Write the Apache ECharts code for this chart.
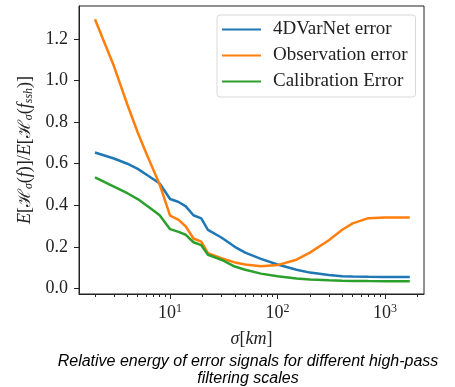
<!DOCTYPE html>
<html>
<head>
    <meta charset="utf-8">
    <title>Relative energy of error signals</title>
    <script src="https://cdn.jsdelivr.net/npm/echarts@6.0.0/dist/echarts.min.js"></script>
    <style>
        html, body { margin: 0; padding: 0; background: #fff; }
        #chart { width: 455px; height: 387px; }
    </style>
</head>
<body>
    <div id="chart"></div>
    <script>
        // filtering scale sigma in km
        const sigma = [2, 3, 4, 5, 6, 7, 8, 10, 12, 14, 16.5, 19.5, 22.5, 30, 40, 50, 70, 100, 150, 200, 300, 400, 500, 700, 1000, 1700];
        const varnetErr = [0.654, 0.625, 0.600, 0.575, 0.548, 0.525, 0.505, 0.430, 0.416, 0.395, 0.352, 0.337, 0.282, 0.245, 0.200, 0.172, 0.142, 0.115, 0.090, 0.076, 0.064, 0.059, 0.057, 0.056, 0.055, 0.055];
        const obsErr = [1.295, 1.07, 0.885, 0.750, 0.650, 0.570, 0.500, 0.350, 0.330, 0.298, 0.240, 0.225, 0.170, 0.145, 0.125, 0.115, 0.107, 0.112, 0.138, 0.172, 0.232, 0.282, 0.313, 0.338, 0.341, 0.341];
        const calibErr = [0.534, 0.490, 0.458, 0.430, 0.400, 0.375, 0.352, 0.285, 0.272, 0.258, 0.222, 0.208, 0.162, 0.138, 0.105, 0.090, 0.071, 0.058, 0.048, 0.043, 0.039, 0.037, 0.036, 0.035, 0.034, 0.034];
        const seriesNames = ['4DVarNet error', 'Observation error', 'Calibration Error'];
        const yTicks = [0, 0.2, 0.4, 0.6, 0.8, 1.0, 1.2];
        const xMajor = [10, 100, 1000];
        const xMinor = [2, 3, 4, 5, 6, 7, 8, 9, 20, 30, 40, 50, 60, 70, 80, 90, 200, 300, 400, 500, 600, 700, 800, 900, 2000];

        const serif = 'Liberation Serif';
        const frame = '#222';

        function pairs(ys) {
            return sigma.map((x, i) => [x, ys[i]]);
        }

        const chart = echarts.init(document.getElementById('chart'));

        const option = {
            animation: false,
            color: ['#1f77b4', '#ff7f0e', '#2ca02c'],
            title: {
                text: 'Relative energy of error signals for different high-pass\nfiltering scales',
                left: 243,
                top: 348,
                textAlign: 'center',
                textStyle: {
                    fontFamily: 'Liberation Sans',
                    fontStyle: 'italic',
                    fontWeight: 'normal',
                    fontSize: 16,
                    lineHeight: 17,
                    color: '#000'
                }
            },
            grid: {
                left: 79, right: 31, top: 6, bottom: 93,
                show: true,
                borderColor: frame,
                borderWidth: 1
            },
            legend: {
                orient: 'vertical',
                left: 217,
                top: 15,
                padding: [5, 8, 6, 5],
                itemGap: 7,
                itemWidth: 39,
                itemHeight: 2,
                icon: 'rect',
                backgroundColor: 'rgba(255,255,255,0.8)',
                borderColor: '#d8d8d8',
                borderWidth: 1,
                borderRadius: 3,
                data: seriesNames,
                textStyle: {
                    fontFamily: serif,
                    fontSize: 19,
                    lineHeight: 18,
                    color: '#222',
                    padding: [0, 0, 0, 7]
                }
            },
            xAxis: [{
                type: 'log',
                logBase: 10,
                min: 1.42,
                max: 2306,
                position: 'bottom',
                name: '{i|σ}[{i|km}]',
                nameLocation: 'middle',
                nameGap: 36,
                nameTextStyle: {
                    fontFamily: serif,
                    fontSize: 18,
                    color: '#222',
                    rich: { i: { fontFamily: serif, fontStyle: 'italic', fontSize: 18, color: '#222' } }
                },
                axisLine: { show: true, onZero: false, lineStyle: { color: frame, width: 1 } },
                axisTick: { show: true, length: 5, customValues: xMajor, lineStyle: { color: frame } },
                axisLabel: {
                    customValues: xMajor,
                    margin: 9,
                    formatter: v => '{b|10}{s|' + Math.round(Math.log10(v)) + '}',
                    rich: {
                        b: { fontFamily: serif, fontSize: 18, color: '#222' },
                        s: { fontFamily: serif, fontSize: 12, color: '#222', verticalAlign: 'top', padding: [0, 0, 8, 0] }
                    }
                },
                splitLine: { show: false }
            }, {
                type: 'log',
                logBase: 10,
                min: 1.42,
                max: 2306,
                position: 'bottom',
                offset: 0,
                axisLine: { show: false, onZero: false },
                axisTick: { show: true, length: 3, customValues: xMinor, lineStyle: { color: frame } },
                axisLabel: { show: false },
                splitLine: { show: false }
            }],
            yAxis: {
                type: 'value',
                min: -0.027,
                max: 1.359,
                name: '{i|E}[{h|ℋ}{s|σ}({i|f})]/{i|E}[{h|ℋ}{s|σ}({i|f}{s|ssh})]',
                nameLocation: 'middle',
                nameGap: 44,
                nameTextStyle: {
                    fontFamily: serif,
                    fontSize: 18,
                    color: '#222',
                    rich: {
                        i: { fontFamily: serif, fontStyle: 'italic', fontSize: 18, color: '#222' },
                        h: { fontFamily: 'DejaVu Serif', fontSize: 17, color: '#222' },
                        s: { fontFamily: serif, fontStyle: 'italic', fontSize: 12, color: '#222', verticalAlign: 'bottom' }
                    }
                },
                axisLine: { show: true, onZero: false, lineStyle: { color: frame, width: 1 } },
                axisTick: { show: true, length: 5, customValues: yTicks, lineStyle: { color: frame } },
                axisLabel: {
                    customValues: yTicks,
                    margin: 11,
                    fontFamily: serif,
                    fontSize: 18,
                    color: '#222',
                    formatter: v => v.toFixed(1)
                },
                splitLine: { show: false }
            },
            series: [
                { name: seriesNames[0], type: 'line', showSymbol: false, lineStyle: { width: 2.5 }, data: pairs(varnetErr) },
                { name: seriesNames[1], type: 'line', showSymbol: false, lineStyle: { width: 2.5 }, data: pairs(obsErr) },
                { name: seriesNames[2], type: 'line', showSymbol: false, lineStyle: { width: 2.5 }, data: pairs(calibErr) }
            ]
        };

        chart.setOption(option);
    </script>
</body>
</html>
